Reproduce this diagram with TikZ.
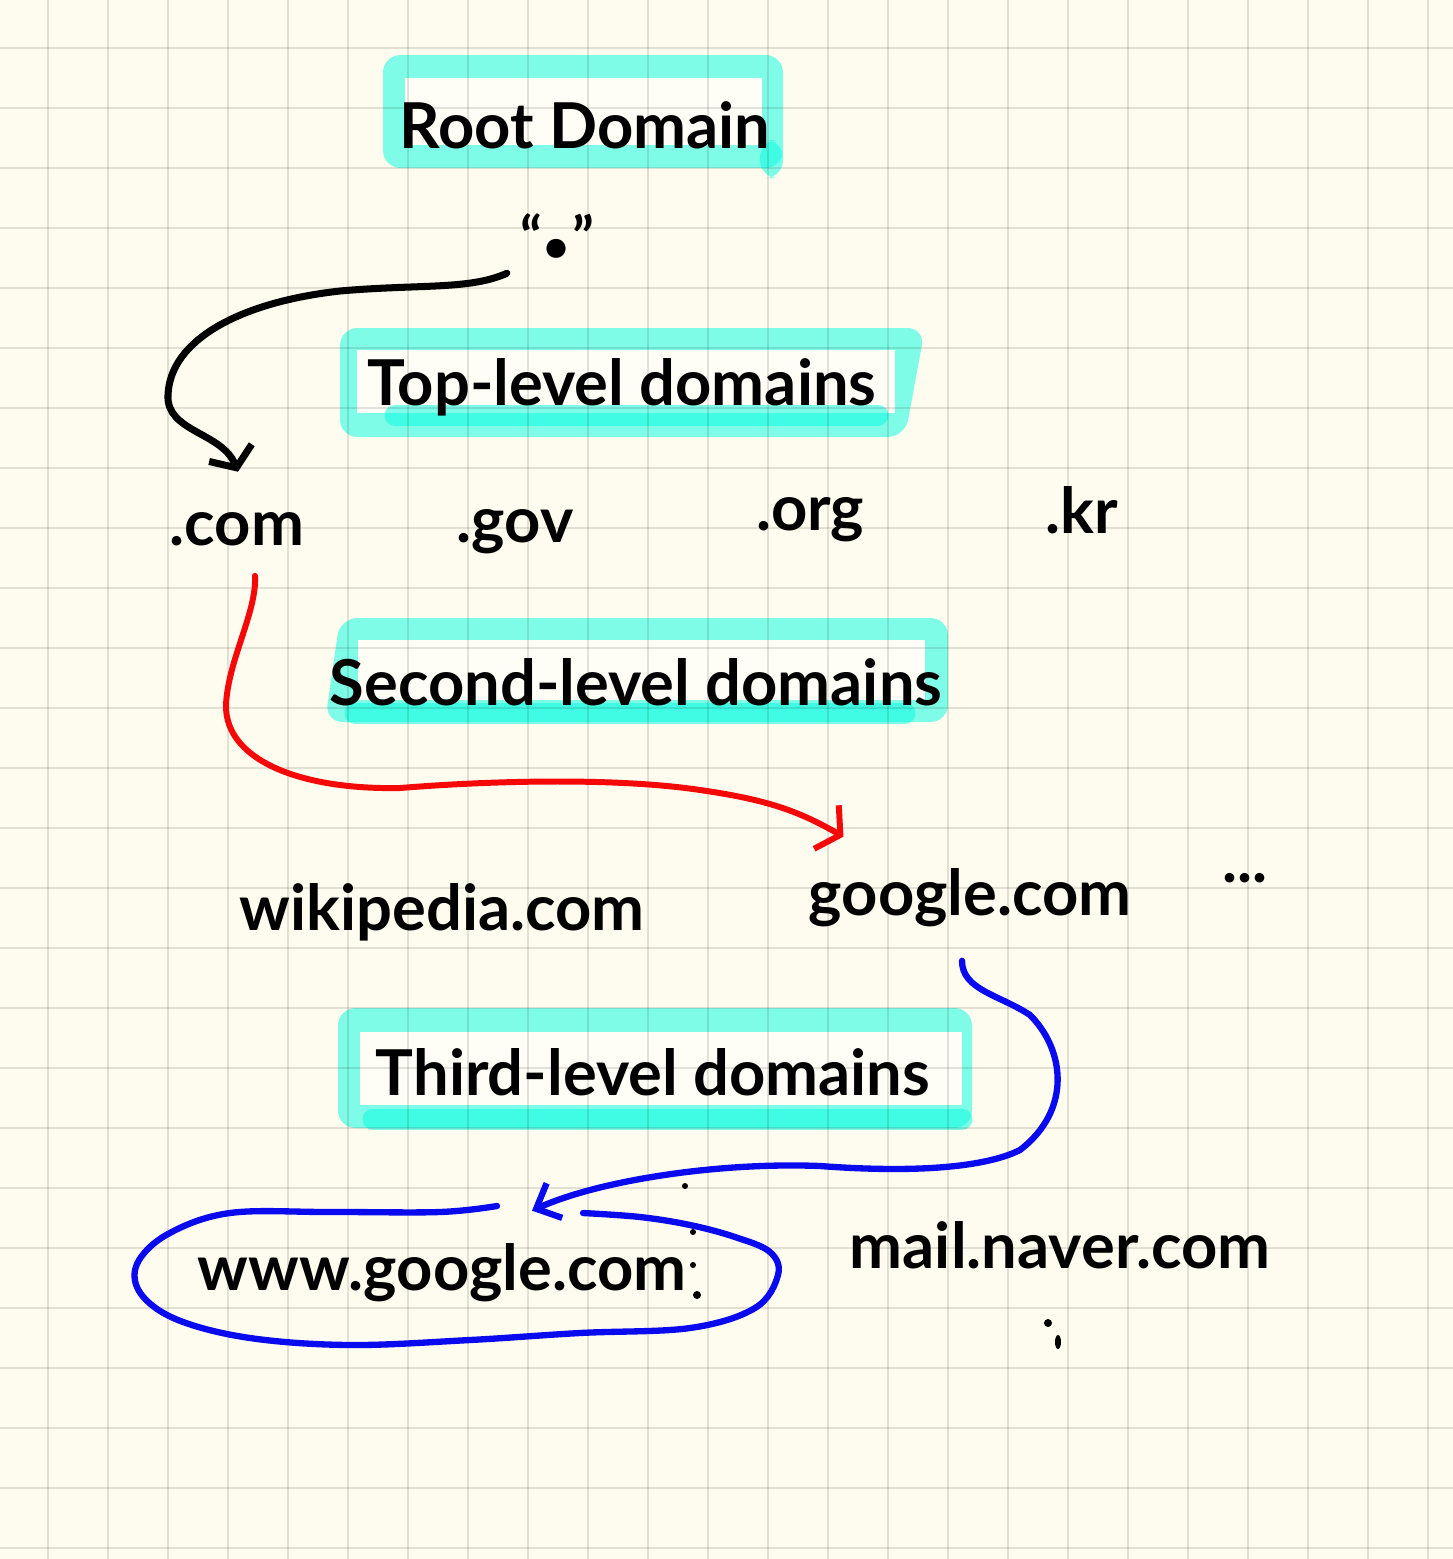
\documentclass[tikz,border=0pt]{standalone}
\usepackage{fontspec}
\setmainfont{Lato}
\usetikzlibrary{arrows.meta,calc}
\definecolor{paper}{HTML}{FEFCEE}
\definecolor{hilite}{HTML}{02FCE2}
\definecolor{hiliteinner}{HTML}{FFFEF6}
\definecolor{inkred}{HTML}{F50808}
\definecolor{inkblue}{HTML}{0A0AEE}
\newcommand{\handfont}{\fontsize{36}{40}\selectfont\bfseries}

\begin{document}
\begin{tikzpicture}[
  x=0.02cm, y=-0.02cm,
  hand/.style={font=\handfont, anchor=base, inner sep=0pt},
  hl/.style={fill=hilite, fill opacity=0.5, rounded corners=10pt},
  hlin/.style={fill=hiliteinner},
  hlbar/.style={draw=hilite, draw opacity=0.5, line width=0.42cm, line cap=round},
  gridline/.style={draw=black, draw opacity=0.11, line width=0.035cm},
  ink/.style={line width=4pt, line cap=round, line join=round},
  rootlink/.style={ink, black, -{Straight Barb[length=3.2mm, width=9.2mm]}},
  comlink/.style={ink, inkred, line width=3.4pt, -{Straight Barb[length=3.2mm, width=10mm]}},
  googlelink/.style={ink, inkblue, line width=3.6pt, -{Straight Barb[length=4mm, width=7.6mm]}},
]
\useasboundingbox (0,0) rectangle (1453,1559);
\fill[paper] (0,0) rectangle (1453,1559);

% ---------- highlighter boxes behind the level titles
\fill[hl] (383,55) rectangle (783,168);
\fill[hl] (760,140) rectangle (783,178);
\fill[hlin] (405,78) rectangle (762,145);

\fill[hl] (340,328) -- (925,328) -- (905,437) -- (340,437) -- cycle;
\fill[hlin] (357,350) rectangle (895,413);
\draw[hlbar] (395,415) -- (878,415);

\fill[hl] (340,618) -- (948,618) -- (948,722) -- (325,722) -- cycle;
\fill[hlin] (358,640) rectangle (925,700);
\draw[hlbar] (355,713) -- (905,713);

\fill[hl] (338,1008) rectangle (972,1128);
\fill[hlin] (360,1032) rectangle (962,1105);
\draw[hlbar] (373,1119) -- (962,1119);

% ---------- squared paper
\foreach \gx in {48,108,...,1428}
  \draw[gridline] (\gx,0) -- (\gx,1559);
\foreach \gy in {48,108,...,1548}
  \draw[gridline] (0,\gy) -- (1453,\gy);

% ---------- level titles
\node[hand] (rootlabel) at (585,148) {Root Domain};
\node[hand] (toplabel)  at (622,405) {Top-level domains};
\node[hand] (sldlabel)  at (636,705) {Second-level domains};
\node[hand] (thdlabel)  at (653,1095) {Third-level domains};

% ---------- the names on each level
\node[hand, font=\fontsize{32}{36}\selectfont\bfseries] (rootdot) at (557,257)
  {“{\fontsize{72}{72}\selectfont .}”};
\node[hand] (com) at (237,545) {.com};
\node[hand] (gov) at (515,542) {.gov};
\node[hand] (org) at (810,530) {.org};
\node[hand] (kr)  at (1082,533) {.kr};
\node[hand] (wiki)   at (442,930) {wikipedia.com};
\node[hand] (google) at (970,915) {google.com};
\node[hand] (more)   at (1245,882) {...};
\node[hand] (www)    at (442,1290) {www.google.com};
\node[hand] (mail)   at (1060,1268) {mail.naver.com};

% stray dots
\fill (685,1186) circle (3);
\fill (693,1232) circle (3);
\fill (693,1265) circle (3);
\fill (697,1295) circle (4);
\fill (1048,1323) circle (4);
\fill (1058,1342) ellipse (3 and 7);

% ---------- the chain root -> .com -> google.com -> www.google.com
\draw[rootlink] ([shift={(-13,15)}]rootdot.south west)
  .. controls (470,290) and (420,284) .. (340,291)
  .. controls (240,302) and (170,340) .. (168,395)
  .. controls (166,432) and (222,432) .. ([shift={(1,-40)}]com.north);
\draw[comlink] ([shift={(18,30)}]com.south)
  .. controls (257,612) and (228,660) .. (226,705)
  .. controls (225,760) and (300,790) .. (400,788)
  .. controls (500,780) and (620,778) .. (700,790)
  .. controls (770,800) and (800,812) .. ([shift={(35,-31)}]google.north west);
\draw[googlelink] ([shift={(-8,34)}]google.south)
  .. controls (962,990) and (1000,995) .. (1030,1015)
  .. controls (1065,1050) and (1072,1110) .. (1020,1150)
  .. controls (980,1170) and (900,1172) .. (820,1166)
  .. controls (720,1162) and (600,1180) .. ([shift={(90,-32)}]www.north);

% loop round www.google.com
\draw[ink, inkblue, line width=3.6pt] plot[smooth, tension=0.6] coordinates {
  (497,1206) (440,1212) (330,1212) (230,1213) (168,1234) (137,1264) (141,1294)
  (178,1320) (250,1338) (350,1345) (470,1340) (580,1333) (690,1328) (755,1308)
  (778,1275) (770,1252) (735,1237) (690,1225) (640,1217) (583,1213)};
\end{tikzpicture}
\end{document}
